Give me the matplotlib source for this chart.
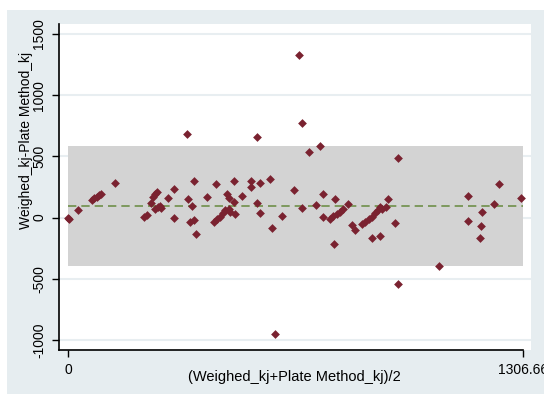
import matplotlib
matplotlib.use("Agg")
import matplotlib.pyplot as plt
from matplotlib.patches import Rectangle

plt.rcParams['font.family'] = ['Liberation Sans', 'DejaVu Sans']

# mean of the two methods (x) and difference (y)
avg_kj = [0, 3, 30, 68, 76, 83, 89, 95, 136, 219, 226, 239, 243, 250, 257,
          250, 258, 264, 267, 287, 305, 303, 341, 542, 363, 346, 357, 351,
          363, 367, 399, 425, 418, 427, 437, 446, 451, 461, 466, 480, 456,
          461, 478, 478, 500, 526, 526, 552, 542, 552, 580, 585, 614, 649,
          662, 673, 691, 724, 673, 712, 731, 731, 753, 762, 772, 782, 791,
          767, 804, 815, 823, 844, 853, 863, 873, 882, 890, 897, 903, 874,
          897, 919, 913, 938, 949, 594, 947, 1064, 764, 1149, 1149, 1185,
          1182, 1188, 1223, 1237, 1302]
diff_kj = [0, -8, 63, 144, 158, 171, 183, 193, 281, 3, 22, 117, 171, 193, 210,
           68, 85, 95, 77, 158, 234, -5, 683, 661, 299, 153, 95, -33,
           -19, -135, 171, 275, -33, -13, 8, 36, 63, 69, 49, 30, 193,
           158, 131, 299, 177, 302, 253, 285, 117, 41, 316, -86, 14, 226,
           1330, 770, 538, 585, 77, 104, 191, 3, -8, 14, 30, 49, 69,
           153, 109, -60, -100, -51, -33, -13, 8, 36, 63, 85, 73, -168,
           -149, 153, 85, -41, 485, -954, -543, -394, -217, -29, 179, -70,
           -163, 46, 114, 272, 163]

mean_diff = 93
upper_loa = 585
lower_loa = -395
x_max = 1306.66

y_ticks = [-1000, -500, 0, 500, 1000, 1500]

fig = plt.figure(figsize=(5.44, 3.94), dpi=100)
fig.patch.set_facecolor('white')
# stata style light bluish graph region, kept behind the axes
fig.add_artist(Rectangle((7 / 544, 0), 1, 1 - 10 / 394, transform=fig.transFigure,
                         facecolor='#e6edf0', edgecolor='none', zorder=-5))

ax = fig.add_axes([59 / 544, 1 - 350 / 394, 472 / 544, 326 / 394])
ax.set_facecolor('white')
ax.set_xlim(-25.8, 1329.6)
ax.set_ylim(-1082, 1582)

for y in y_ticks:
    ax.axhline(y, color='#e8eef1', lw=1.5, zorder=1)

# limits of agreement band and mean difference
ax.fill_between([0, x_max], lower_loa, upper_loa, color='#d3d3d3', lw=0, zorder=2)
ax.plot([0, x_max], [mean_diff, mean_diff], color='#6f8f4a', lw=1.2,
        linestyle=(0, (5, 3)), zorder=3)

ax.scatter(avg_kj, diff_kj, marker='D', s=20, color='#7a2230', lw=0, zorder=4)

ax.set_yticks(y_ticks)
ax.set_yticklabels([str(v) for v in y_ticks], rotation=90, va='center', fontsize=10)
ax.set_xticks([0, x_max])
ax.set_xticklabels(['0', '1306.66'], fontsize=10)
ax.tick_params(axis='both', length=5, width=1, color='black', pad=4)

for side in ['top', 'right']:
    ax.spines[side].set_visible(False)
ax.spines['left'].set_linewidth(1.2)
ax.spines['bottom'].set_linewidth(1.2)
ax.spines['bottom'].set_bounds(-25.8, x_max)

fig.text(26 / 544, 1 - 140 / 394, 'Weighed_kj-Plate Method_kj', rotation=90,
         ha='center', va='center', fontsize=10)
fig.text(294 / 544, 1 - 377 / 394, '(Weighed_kj+Plate Method_kj)/2',
         ha='center', va='center', fontsize=10.5)

fig.savefig('out.png', dpi=100, facecolor=fig.get_facecolor())
